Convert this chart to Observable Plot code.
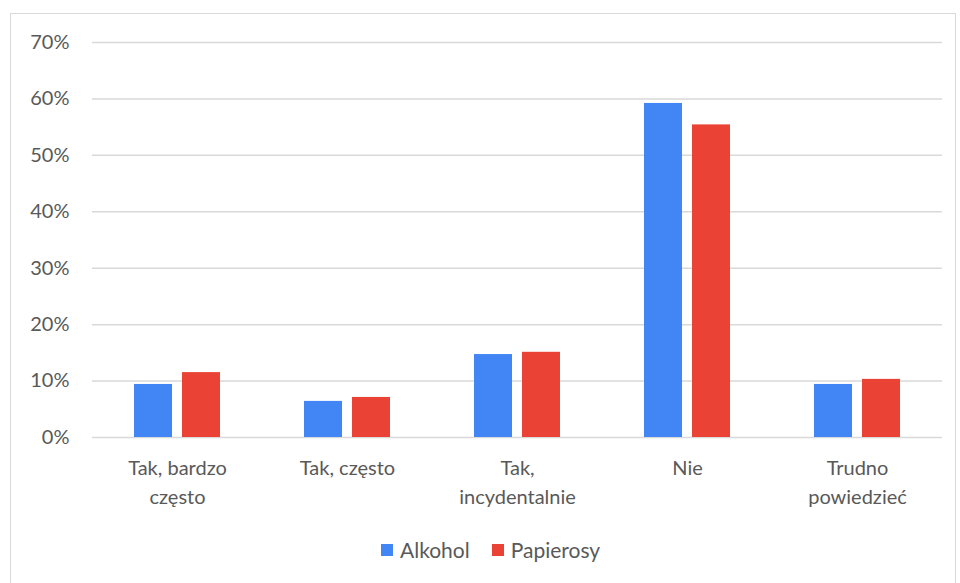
<!DOCTYPE html>
<html>
<head>
<meta charset="utf-8">
<script src="https://cdn.jsdelivr.net/npm/d3@7"></script>
<script src="https://cdn.jsdelivr.net/npm/@observablehq/plot@0.6"></script>
<style>
  html, body { margin: 0; padding: 0; background: #fff; }
  #frame { position: absolute; left: 10px; top: 13px; width: 944px; height: 580px;
           border: 1px solid #d9d9d9; border-bottom: none; background: #fff; }
  #chart { position: absolute; left: 0; top: 0; }
  #legend { position: absolute; left: 370px; top: 523px; display: flex; align-items: center;
            font-family: Lato, "Open Sans", sans-serif; font-size: 21px; color: #595959; }
  .sw { width: 12px; height: 12px; display: inline-block; margin-right: 7px; }
  .item { display: flex; align-items: center; margin-right: 22px; }
</style>
</head>
<body>
<div id="frame"><div id="chart"></div><div id="legend"></div></div>
<script>
const categories = ["Tak, bardzo\nczęsto", "Tak, często", "Tak,\nincydentalnie", "Nie", "Trudno\npowiedzieć"];
const series = ["Alkohol", "Papierosy"];
const alkohol = [0.094, 0.064, 0.147, 0.592, 0.094];
const papierosy = [0.115, 0.071, 0.151, 0.554, 0.103];
const yTicks = [0, 0.1, 0.2, 0.3, 0.4, 0.5, 0.6, 0.7];
const colors = ["#4285f4", "#ea4335"];

const data = [];
categories.forEach((c, i) => {
  data.push({category: c, series: series[0], value: alkohol[i]});
  data.push({category: c, series: series[1], value: papierosy[i]});
});

const plot = Plot.plot({
  width: 944,
  height: 520,
  marginLeft: 80,
  marginRight: 13,
  marginTop: 28,
  marginBottom: 97,
  style: {fontFamily: "Lato, 'Open Sans', sans-serif", fontSize: "20px", color: "#595959", background: "#fff"},
  fx: {domain: categories, padding: 0, label: null, axis: null},
  x: {domain: series, paddingInner: 0.21, paddingOuter: 0.86, axis: null},
  y: {domain: [0, 0.7], label: null},
  color: {domain: series, range: colors},
  marks: [
    Plot.ruleY(yTicks, {stroke: "#d9d9d9", strokeWidth: 1.5}),
    Plot.barY(data, {fx: "category", x: "series", y: "value", fill: "series"}),
    Plot.axisY(yTicks, {tickSize: 0, tickPadding: 23, tickFormat: d3.format(".0%"), label: null, fill: "#595959"}),
    Plot.axisFx({anchor: "bottom", tickSize: 0, tickPadding: 17, label: null, lineHeight: 1.45, fill: "#595959"})
  ]
});
document.getElementById("chart").appendChild(plot);

const legend = document.getElementById("legend");
series.forEach((s, i) => {
  const it = document.createElement("div");
  it.className = "item";
  const sw = document.createElement("span");
  sw.className = "sw";
  sw.style.background = colors[i];
  it.appendChild(sw);
  it.appendChild(document.createTextNode(s));
  legend.appendChild(it);
});
</script>
</body>
</html>
